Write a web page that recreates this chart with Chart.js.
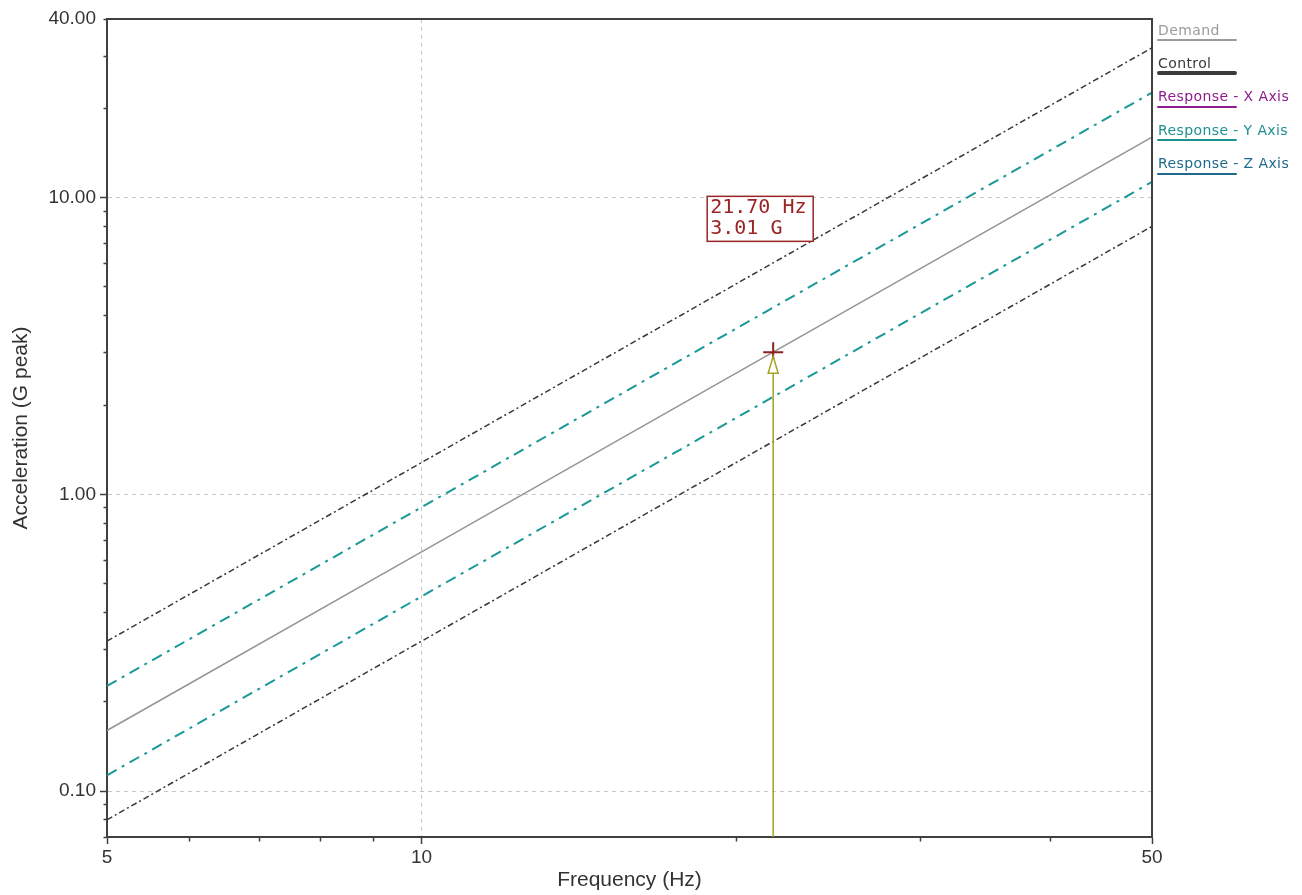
<!DOCTYPE html>
<html>
<head>
<meta charset="utf-8">
<title>Sine profile - Acceleration vs Frequency</title>
<script src="https://cdn.jsdelivr.net/npm/chart.js@4.4.1/dist/chart.umd.min.js"></script>
<style>
    body { margin: 0; background: #fff; }
    #wrap { position: relative; width: 1302px; height: 895px; }
    #legend { position: absolute; left: 1158px; top: 0; font: 14px 'DejaVu Sans', sans-serif; letter-spacing: 0.4px; }
    #legend .item { position: absolute; left: 0; white-space: nowrap; line-height: 16px; }
    #legend .bar { position: absolute; left: -1px; width: 80px; border-radius: 2px; }
</style>
</head>
<body>
<div id="wrap">
    <canvas id="sineChart" width="1302" height="895"></canvas>
    <div id="legend"></div>
</div>
<script>
// --- Data ---
const freqs = [5, 10, 20, 50];
const demand = [0.16, 0.64, 2.56, 16.0];
const upperAbort = [0.32, 1.28, 5.12, 32.0];
const upperAlarm = [0.226, 0.905, 3.62, 22.6];
const lowerAlarm = [0.113, 0.453, 1.81, 11.3];
const lowerAbort = [0.08, 0.32, 1.28, 8.0];

const cursorFreq = 21.70;
const cursorAccel = 3.01;

// --- Axes ---
const xMin = 5, xMax = 50;
const yMin = 0.07, yMax = 40;
const xTicks = [5, 6, 7, 8, 9, 10, 20, 30, 40, 50];
const xMajor = [5, 10, 50];
const xTickLabels = ['5', '10', '50'];
const yTicks = [0.07, 0.08, 0.09, 0.1, 0.2, 0.3, 0.4, 0.5, 0.6, 0.7, 0.8, 0.9,
                1, 2, 3, 4, 5, 6, 7, 8, 9, 10, 20, 30, 40];
const yMajor = [0.1, 1, 10, 40];
const yTickLabels = ['0.10', '1.00', '10.00', '40.00'];
const xGridAt = [10];
const yGridAt = [0.1, 1, 10];

// --- Legend ---
const legendNames = ['Demand', 'Control', 'Response - X Axis', 'Response - Y Axis', 'Response - Z Axis'];
const legendColors = ['#9c9c9c', '#3a3a3a', '#8e1b8e', '#1f9090', '#1f6a8c'];
const legendBarWidths = [2, 4, 2, 2, 2];

const AXIS_COLOR = '#404040';
const GRID_COLOR = '#c8c8c8';
const TICK_FONT = { family: 'Liberation Sans', size: 19 };
const TITLE_FONT = { family: 'Liberation Sans', size: 21 };

document.addEventListener('DOMContentLoaded', () => {
    buildLegend();
    initChart();
});

function buildLegend() {
    const box = document.getElementById('legend');
    legendNames.forEach((name, i) => {
        const item = document.createElement('div');
        item.className = 'item';
        item.style.top = (21.5 + 33.4 * i) + 'px';
        item.style.color = legendColors[i];
        item.textContent = name;
        box.appendChild(item);

        const bar = document.createElement('div');
        bar.className = 'bar';
        bar.style.top = (40 + 33.4 * i - legendBarWidths[i] / 2) + 'px';
        bar.style.height = legendBarWidths[i] + 'px';
        bar.style.background = legendColors[i];
        box.appendChild(bar);
    });
}

function lineSet(label, values, color, dash, width) {
    return {
        label,
        data: freqs.map((f, i) => ({ x: f, y: values[i] })),
        borderColor: color,
        borderDash: dash,
        borderWidth: width,
        pointRadius: 0,
        fill: false,
        tension: 0
    };
}

// minor tick marks are drawn shorter by dashing away the outer part
function tickDash(majors, outerFirst) {
    return (ctx) => {
        if (!ctx.tick || majors.includes(ctx.tick.value)) return [];
        return outerFirst ? [0, 3.5, 30] : [3.5, 30];
    };
}

// --- Plot frame, cursor triangle and readout box ---
const framePlugin = {
    id: 'frame',
    afterDraw(chart) {
        const { ctx, chartArea: a, scales: { x, y } } = chart;
        ctx.save();
        ctx.strokeStyle = AXIS_COLOR;
        ctx.lineWidth = 2;
        ctx.beginPath();
        ctx.moveTo(a.left, a.top);
        ctx.lineTo(a.right, a.top);
        ctx.lineTo(a.right, a.bottom);
        ctx.stroke();

        const px = x.getPixelForValue(cursorFreq);
        const py = y.getPixelForValue(cursorAccel);

        ctx.strokeStyle = '#a8a020';
        ctx.fillStyle = '#fff';
        ctx.lineWidth = 1.5;
        ctx.beginPath();
        ctx.moveTo(px, py + 4);
        ctx.lineTo(px + 5, py + 21);
        ctx.lineTo(px - 5, py + 21);
        ctx.closePath();
        ctx.fill();
        ctx.stroke();

        const bx = px - 66, by = py - 156, bw = 106, bh = 45;
        ctx.fillRect(bx, by, bw, bh);
        ctx.strokeStyle = '#9b2424';
        ctx.strokeRect(bx, by, bw, bh);
        ctx.fillStyle = '#9b2424';
        ctx.font = '20px "DejaVu Sans Mono"';
        ctx.textBaseline = 'middle';
        ctx.fillText(cursorFreq.toFixed(2) + ' Hz', bx + 3, by + 11);
        ctx.fillText(cursorAccel.toFixed(2) + ' G', bx + 3, by + 32);
        ctx.restore();
    }
};

function initChart() {
    const canvas = document.getElementById('sineChart');

    new Chart(canvas, {
        type: 'line',
        data: {
            datasets: [
                {
                    label: 'Cursor mark',
                    data: [{ x: cursorFreq, y: cursorAccel }],
                    showLine: false,
                    pointStyle: 'cross',
                    pointRadius: 10,
                    pointBorderWidth: 2,
                    pointBorderColor: '#8e1f1f'
                },
                {
                    label: 'Cursor',
                    data: [{ x: cursorFreq, y: cursorAccel }, { x: cursorFreq, y: yMin }],
                    borderColor: '#a3a322',
                    borderWidth: 1.5,
                    pointRadius: 0
                },
                lineSet('Demand', demand, '#959595', [], 1.5),
                lineSet('Upper alarm', upperAlarm, '#1a9898', [11, 6, 3, 6], 2),
                lineSet('Lower alarm', lowerAlarm, '#1a9898', [11, 6, 3, 6], 2),
                lineSet('Upper abort', upperAbort, '#383838', [6, 3, 2, 3], 1.5),
                lineSet('Lower abort', lowerAbort, '#383838', [6, 3, 2, 3], 1.5)
            ]
        },
        options: {
            responsive: false,
            animation: false,
            layout: { padding: { left: 0, top: 19, right: 150, bottom: 0 } },
            plugins: {
                legend: { display: false },
                tooltip: { enabled: false }
            },
            scales: {
                x: {
                    type: 'logarithmic',
                    min: xMin,
                    max: xMax,
                    afterBuildTicks: (s) => { s.ticks = xTicks.map(v => ({ value: v })); },
                    afterFit: (s) => { s.height = 58; },
                    ticks: {
                        autoSkip: false,
                        maxRotation: 0,
                        padding: 2,
                        color: '#333',
                        font: TICK_FONT,
                        callback: (v) => {
                            const i = xMajor.indexOf(v);
                            return i < 0 ? '' : xTickLabels[i];
                        }
                    },
                    grid: {
                        color: (ctx) => ctx.tick && xGridAt.includes(ctx.tick.value) ? GRID_COLOR : 'transparent',
                        lineWidth: 1,
                        tickColor: AXIS_COLOR,
                        tickLength: 7,
                        tickWidth: 1.5,
                        tickBorderDash: tickDash(xMajor, false)
                    },
                    border: { color: AXIS_COLOR, width: 2, dash: [4, 4] },
                    title: {
                        display: true,
                        text: 'Frequency (Hz)',
                        color: '#333',
                        font: TITLE_FONT,
                        padding: { top: 0, bottom: 2 }
                    }
                },
                y: {
                    type: 'logarithmic',
                    min: yMin,
                    max: yMax,
                    afterBuildTicks: (s) => { s.ticks = yTicks.map(v => ({ value: v })); },
                    afterFit: (s) => { s.width = 107; },
                    ticks: {
                        autoSkip: false,
                        padding: 4,
                        color: '#333',
                        font: TICK_FONT,
                        callback: (v) => {
                            const i = yMajor.indexOf(v);
                            return i < 0 ? '' : yTickLabels[i];
                        }
                    },
                    grid: {
                        color: (ctx) => ctx.tick && yGridAt.includes(ctx.tick.value) ? GRID_COLOR : 'transparent',
                        lineWidth: 1,
                        tickColor: AXIS_COLOR,
                        tickLength: 7,
                        tickWidth: 1.5,
                        tickBorderDash: tickDash(yGridAt, true)
                    },
                    border: { color: AXIS_COLOR, width: 2, dash: [4, 4] },
                    title: {
                        display: true,
                        text: 'Acceleration (G peak)',
                        color: '#333',
                        font: TITLE_FONT,
                        padding: { top: 9, bottom: 0 }
                    }
                }
            }
        },
        plugins: [framePlugin]
    });
}
</script>
</body>
</html>
